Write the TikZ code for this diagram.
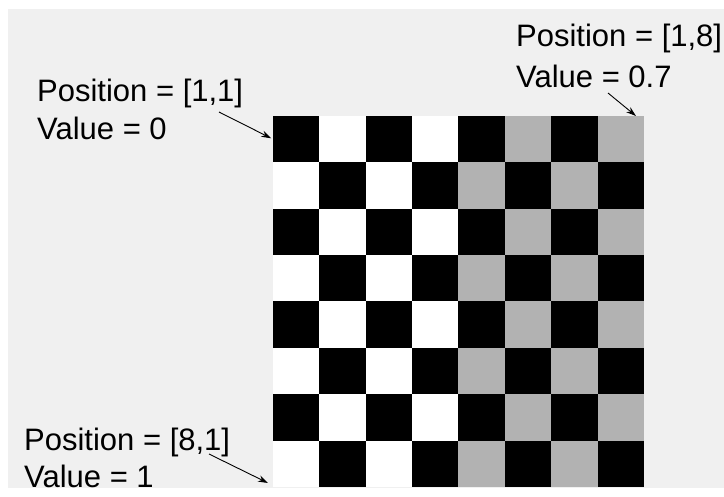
\documentclass[tikz,border=0pt]{standalone}
\usepackage{fontspec}
\setmainfont{Liberation Sans}
\usetikzlibrary{arrows.meta}
\definecolor{bggray}{HTML}{F0F0F0}
\tikzset{
  cell/.style={minimum size=46.4pt,inner sep=0pt,outer sep=0pt,draw=none},
  lbl/.style={anchor=base west,inner sep=0pt,font=\fontsize{31}{36}\selectfont},
  pointer/.style={-{Stealth[length=10pt,width=6.5pt]},line width=0.9pt}
}
\begin{document}
\begin{tikzpicture}[x=1pt,y=-1pt]
\fill[white] (0,0) rectangle (724,497);
\fill[bggray] (8,9) rectangle (724,488);

\foreach \i in {1,...,8}
  \foreach \j in {1,...,8} {
    \pgfmathtruncatemacro\lvl{ifthenelse(mod(\i+\j,2)==0,0,ifthenelse(\j<5,100,70))}
    \node[cell,fill=white!\lvl!black] (c-\i-\j) at (273+46.375*\j-23.19,116+46.375*\i-23.19) {};
  }

\node[lbl] (p11) at (37,102) {Position = [1,1]};
\node[lbl] (v11) at (37,140) {Value = 0};

\node[lbl] (p18) at (516,47) {Position = [1,8]};
\node[lbl] (v18) at (516,88) {Value = 0.7};

\node[lbl] (p81) at (24,451) {Position = [8,1]};
\node[lbl] (v81) at (24,488) {Value = 1};

\coordinate (s11) at (219,112);
\coordinate (s18) at (608,93);
\coordinate (t18) at (636,116);
\coordinate (s81) at (209,454);
\coordinate (t81) at (268,483);

\draw[pointer,shorten >=2pt] (s11) -- (c-1-1.west);
\draw[pointer] (s18) -- (t18);
\draw[pointer] (s81) -- (t81);
\end{tikzpicture}
\end{document}
